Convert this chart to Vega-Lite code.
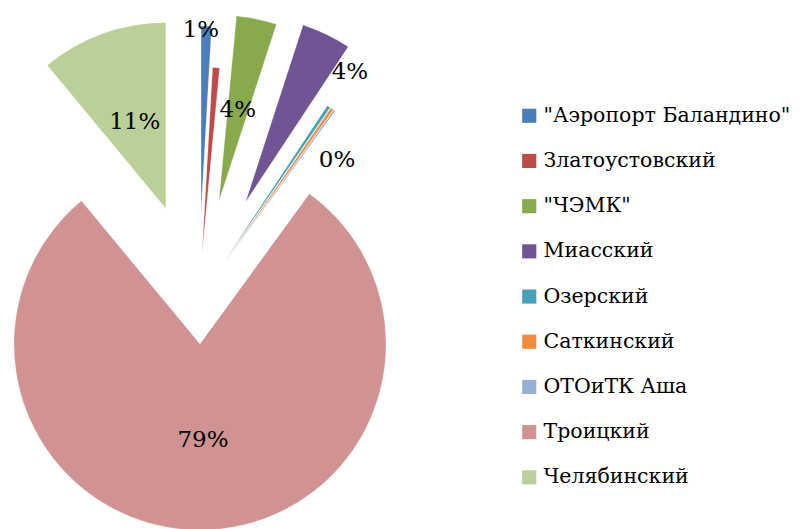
{
  "$schema": "https://vega.github.io/schema/vega-lite/v6.json",
  "width": 802,
  "height": 529,
  "padding": 0,
  "autosize": {"type": "none"},
  "background": "white",
  "config": {"view": {"stroke": null}, "font": "DejaVu Serif"},
  "data": {
    "values": [
      {"name": "\"Аэропорт Баландино\"", "share": 0.9},
      {"name": "Златоустовский", "share": 0.6},
      {"name": " \"ЧЭМК\"", "share": 3.5},
      {"name": "Миасский", "share": 4.3},
      {"name": "Озерский", "share": 0.3},
      {"name": "Саткинский", "share": 0.25},
      {"name": "ОТОиТК Аша", "share": 0.15},
      {"name": "Троицкий", "share": 79},
      {"name": "Челябинский", "share": 11}
    ]
  },
  "transform": [
    {"window": [{"op": "sum", "field": "share", "as": "cum"}, {"op": "row_number", "as": "i"}], "frame": [null, 0]},
    {"calculate": "datum.cum - datum.share", "as": "t0"},
    {"calculate": "(datum.t0 + datum.cum) / 2 * 2 * PI / 100", "as": "ang"},
    {"calculate": "[0.47, 0.25, 0.54, 0.582, 0.251, 0.251, 0.251, 0.24, 0.52][datum.i - 1]", "as": "ex"},
    {"calculate": "datum.ex * sin(datum.ang)", "as": "cx"},
    {"calculate": "datum.ex * cos(datum.ang)", "as": "cy"},
    {"calculate": "[0.5, 4.32, 11.7, 33.6, 34, 44.8, 35.7, 178.2, 340.2][datum.i - 1] * PI / 180", "as": "la"},
    {"calculate": "[1.45, 1.3, 1.04, 1.47, 1.3, 1.056, 1.3, 0.755, 1.014][datum.i - 1]", "as": "lr"},
    {"calculate": "datum.lr * sin(datum.la)", "as": "lx"},
    {"calculate": "datum.lr * cos(datum.la)", "as": "ly"},
    {"calculate": "format(datum.share / 100, '.0%')", "as": "pct"}
  ],
  "layer": [
    {
      "mark": {"type": "arc", "radius": 186, "stroke": "#ffffff", "strokeWidth": 0.4, "strokeOpacity": 0.6},
      "encoding": {
        "x": {"field": "cx", "type": "quantitative", "scale": {"domain": [-1.0677, 3.2441], "nice": false, "zero": false}, "axis": null},
        "y": {"field": "cy", "type": "quantitative", "scale": {"domain": [-1.2339, 1.6102], "nice": false, "zero": false}, "axis": null},
        "theta": {"field": "t0", "type": "quantitative", "stack": null, "scale": {"domain": [0, 100], "range": [0, 6.283185307179586]}},
        "theta2": {"field": "cum"},
        "color": {
          "field": "name",
          "type": "nominal",
          "sort": null,
          "scale": {
            "domain": ["\"Аэропорт Баландино\"", "Златоустовский", " \"ЧЭМК\"", "Миасский", "Озерский", "Саткинский", "ОТОиТК Аша", "Троицкий", "Челябинский"],
            "range": ["#4a7ebb", "#be4b48", "#88aa4c", "#705594", "#46a2ba", "#f08c3c", "#94b0d6", "#d09292", "#bbcf98"]
          },
          "legend": {
            "title": null,
            "orient": "none",
            "legendX": 519,
            "legendY": 105.5,
            "padding": 0,
            "symbolType": "square",
            "symbolSize": 200,
            "symbolStrokeWidth": 0,
            "labelFont": "DejaVu Serif",
            "labelFontSize": 20.5,
            "labelColor": "#000000",
            "labelOffset": 4,
            "rowPadding": 24.2,
            "labelLimit": 400,
            "encode": {"symbols": {"update": {"size": {"value": 180}, "strokeWidth": {"value": 0}}}}
          }
        }
      }
    },
    {
      "transform": [{"filter": "indexof([2, 5, 7], datum.i) < 0"}],
      "mark": {"type": "text", "font": "DejaVu Serif", "fontSize": 23, "color": "#000000", "align": "center", "baseline": "middle"},
      "encoding": {
        "x": {"field": "lx", "type": "quantitative"},
        "y": {"field": "ly", "type": "quantitative"},
        "text": {"field": "pct", "type": "nominal"}
      }
    }
  ]
}
